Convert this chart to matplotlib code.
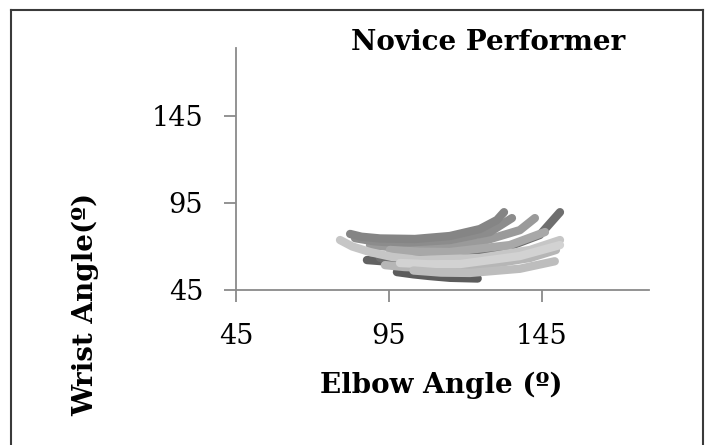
import numpy as np
import matplotlib
matplotlib.use("Agg")
import matplotlib.pyplot as plt
from matplotlib.lines import Line2D

# elbow / wrist angle traces (degrees)
elbow_1 = [82.3, 86.0, 92.1, 103.5, 114.9, 124.7, 130.3, 132.6]
wrist_1 = [77.2, 75.6, 74.6, 74.3, 76.0, 80.0, 85.2, 89.7]
elbow_2 = [83.9, 90.0, 98.6, 114.9, 128.0, 135.2]
wrist_2 = [74.8, 73.0, 72.0, 73.7, 78.3, 86.3]
elbow_3 = [88.8, 96.0, 105.1, 124.7, 137.8, 142.7]
wrist_3 = [70.8, 69.6, 69.1, 72.5, 79.4, 86.3]
elbow_4 = [92.1, 100.0, 111.7, 131.3, 144.3, 150.9]
wrist_4 = [63.4, 63.0, 63.4, 68.0, 76.6, 89.7]
elbow_5 = [79.0, 83.0, 88.8, 96.0, 105.1, 124.7, 141.1, 150.9]
wrist_5 = [73.7, 70.0, 66.8, 64.0, 62.2, 63.4, 68.0, 73.7]
elbow_6 = [98.6, 108.0, 118.2, 137.8, 150.9]
wrist_6 = [60.5, 59.8, 59.9, 64.5, 70.8]
elbow_7 = [103.0, 112.0, 121.5, 137.8, 149.2]
wrist_7 = [56.2, 55.0, 54.8, 57.2, 61.5]
elbow_8 = [97.6, 103.0, 108.4, 115.0, 124.0]
wrist_8 = [55.3, 54.0, 53.0, 52.0, 51.6]
elbow_9 = [87.8, 96.0, 108.0]
wrist_9 = [62.2, 61.1, 60.5]
elbow_10 = [95.3, 105.0, 114.9, 134.5, 146.0]
wrist_10 = [68.0, 67.0, 66.8, 70.8, 78.3]
elbow_11 = [93.7, 100.0, 108.4, 124.7, 141.1, 149.6]
wrist_11 = [59.3, 58.2, 57.6, 58.8, 63.4, 68.0]

traces = [
    (elbow_8, wrist_8, "#5c5c5c"),
    (elbow_9, wrist_9, "#626262"),
    (elbow_4, wrist_4, "#6e6e6e"),
    (elbow_11, wrist_11, "#b6b6b6"),
    (elbow_3, wrist_3, "#9a9a9a"),
    (elbow_2, wrist_2, "#8c8c8c"),
    (elbow_1, wrist_1, "#858585"),
    (elbow_10, wrist_10, "#a8a8a8"),
    (elbow_5, wrist_5, "#c6c6c6"),
    (elbow_6, wrist_6, "#d2d2d2"),
    (elbow_7, wrist_7, "#bdbdbd"),
]

ticks = [45, 95, 145]

W, H = 707, 445
fig = plt.figure(figsize=(W / 100, H / 100), dpi=100)
ax = fig.add_axes([236 / W, 155 / H, 413 / W, 242 / H])

for ex, wy, c in traces:
    ax.plot(ex, wy, color=c, lw=6, solid_capstyle="round", solid_joinstyle="round")

ax.set_xlim(45, 180)
ax.set_ylim(45, 184)
ax.set_xticks(ticks)
ax.set_yticks(ticks)
ax.set_xticklabels([str(t) for t in ticks])
ax.set_yticklabels([str(t) for t in ticks])

for s in ["top", "right"]:
    ax.spines[s].set_visible(False)
for s in ["left", "bottom"]:
    ax.spines[s].set_color("#8a8a8a")
    ax.spines[s].set_linewidth(1.3)
ax.tick_params(direction="out", length=8.5, width=1.3, color="#8a8a8a",
               pad=15, labelsize=19.5)
for lab in ax.get_xticklabels() + ax.get_yticklabels():
    lab.set_family("DejaVu Serif")

fig.text(488 / W, 1 - 42 / H, "Novice Performer", ha="center", va="center",
         family="DejaVu Serif", fontweight="bold", fontsize=20)
fig.text(441 / W, 1 - 385 / H, "Elbow Angle (º)", ha="center", va="center",
         family="DejaVu Serif", fontweight="bold", fontsize=20)
fig.text(86 / W, 1 - 304 / H, "Wrist Angle(º)", ha="center", va="center",
         rotation=90, family="DejaVu Serif", fontweight="bold", fontsize=20)

# outer frame (left, top, right)
bx0, bx1, by = 11 / W, 703 / W, 1 - 10 / H
for xs, ys in [([bx0, bx0], [0, by]), ([bx0, bx1], [by, by]), ([bx1, bx1], [by, 0])]:
    fig.add_artist(Line2D(xs, ys, color="#3a3a3a", lw=1.5))

fig.savefig("out.png", dpi=100)
